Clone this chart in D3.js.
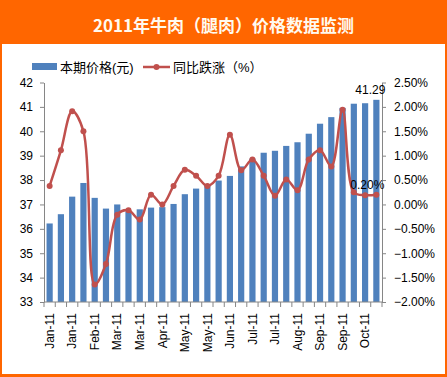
<!DOCTYPE html>
<html>
<head>
<meta charset="utf-8">
<script src="https://cdn.jsdelivr.net/npm/d3@7"></script>
<style>
	body { margin: 0; background: #fff; }
	svg { display: block; }
</style>
</head>
<body>
<div id="container"></div>
<script>
const TITLE = '2011年牛肉（腿肉）价格数据监测';
const seriesNames = ['本期价格(元)', '同比跌涨（%）'];

// 30 readings, only every other one gets a tick label
const categories = ['Jan-11', 'Jan-11', 'Jan-11', 'Jan-11', 'Feb-11', 'Feb-11', 'Mar-11', 'Mar-11', 'Mar-11', 'Mar-11',
	'Apr-11', 'Apr-11', 'May-11', 'May-11', 'May-11', 'May-11', 'Jun-11', 'Jun-11', 'Jul-11', 'Jul-11',
	'Jul-11', 'Jul-11', 'Aug-11', 'Aug-11', 'Sep-11', 'Sep-11', 'Sep-11', 'Sep-11', 'Oct-11', 'Oct-11'];
const price = [36.22, 36.6, 37.32, 37.88, 37.27, 36.83, 37.0, 36.7, 36.8, 36.87,
	36.89, 37.02, 37.42, 37.65, 37.79, 37.98, 38.17, 38.56, 38.88, 39.12,
	39.2, 39.4, 39.55, 39.9, 40.31, 40.58, 40.96, 41.13, 41.15, 41.29];
const yoy = [0.38, 1.11, 1.91, 1.50, -1.64, -1.22, -0.21, -0.12, -0.31, 0.20,
	0.0, 0.38, 0.71, 0.59, 0.38, 0.59, 1.43, 0.70, 0.92, 0.59,
	0.18, 0.51, 0.29, 0.92, 1.11, 0.78, 1.94, 0.25, 0.19, 0.20];
const leftTicks = [33, 34, 35, 36, 37, 38, 39, 40, 41, 42];
const rightTicks = [-2, -1.5, -1, -0.5, 0, 0.5, 1, 1.5, 2, 2.5];

const W = 447, H = 377;
const ORANGE = '#FF6600';
const BLUE = '#4F81BD';
const RED = '#C0504D';
const AXIS = '#868686';
const FONT = '"Liberation Sans", Arial, "Noto Sans CJK SC", sans-serif';

const svg = d3.select('#container').append('svg')
	.attr('width', W)
	.attr('height', H)
	.style('font-family', FONT);

// frame + title band
svg.append('rect').attr('width', W).attr('height', H).attr('fill', ORANGE);
svg.append('rect')
	.attr('x', 2).attr('y', 44)
	.attr('width', W - 4).attr('height', 330)
	.attr('fill', '#fff');
svg.append('text')
	.attr('x', W / 2).attr('y', 24)
	.attr('text-anchor', 'middle')
	.attr('dominant-baseline', 'central')
	.style('font-family', '"Noto Sans CJK SC", sans-serif')
	.style('font-weight', 'bold')
	.style('font-size', '17px')
	.attr('fill', '#fffaf0')
	.text(TITLE);

const PLOT = {left: 44, right: 382, top: 82.5, bottom: 302};

const x = d3.scaleBand()
	.domain(d3.range(categories.length))
	.range([PLOT.left, PLOT.right])
	.paddingInner(0.45)
	.paddingOuter(0.225);
const yL = d3.scaleLinear().domain([33, 42]).range([PLOT.bottom, PLOT.top]);
const yR = d3.scaleLinear().domain([-2, 2.5]).range([PLOT.bottom, PLOT.top]);
const cx = i => x(i) + x.bandwidth() / 2;

// bars
svg.append('g').selectAll('rect')
	.data(price)
	.join('rect')
	.attr('x', (d, i) => x(i))
	.attr('y', d => yL(d))
	.attr('width', x.bandwidth())
	.attr('height', d => yL(33) - yL(d))
	.attr('fill', BLUE);

// axes
const styleAxis = g => {
	g.select('.domain').attr('stroke', AXIS);
	g.selectAll('.tick line').attr('stroke', AXIS);
	g.selectAll('.tick text').attr('fill', '#000').style('font-size', '12px').style('font-family', FONT);
};
svg.append('g')
	.attr('transform', `translate(${PLOT.left},0)`)
	.call(d3.axisLeft(yL).tickValues(leftTicks).tickSize(4).tickSizeOuter(0).tickPadding(7))
	.call(styleAxis);
svg.append('g')
	.attr('transform', `translate(${PLOT.right},0)`)
	.call(d3.axisRight(yR).tickValues(rightTicks).tickSize(4).tickSizeOuter(0).tickPadding(8)
		.tickFormat(d => d3.format('.2f')(d) + '%'))
	.call(styleAxis);

const xAxis = svg.append('g').attr('transform', `translate(0,${PLOT.bottom})`);
xAxis.append('line')
	.attr('x1', PLOT.left).attr('x2', PLOT.right)
	.attr('stroke', AXIS);
xAxis.selectAll('line.tk')
	.data(d3.range(categories.length + 1))
	.join('line')
	.attr('class', 'tk')
	.attr('x1', i => PLOT.left + i * x.step())
	.attr('x2', i => PLOT.left + i * x.step())
	.attr('y2', 5)
	.attr('stroke', AXIS);
xAxis.selectAll('text')
	.data(categories.map((c, i) => ({c, i})).filter(d => d.i % 2 === 0))
	.join('text')
	.attr('transform', d => `translate(${cx(d.i)},11) rotate(-90)`)
	.attr('text-anchor', 'end')
	.attr('dy', '0.35em')
	.style('font-size', '12px')
	.text(d => d.c);

// smoothed yoy line
const line = d3.line()
	.x((d, i) => cx(i))
	.y(d => yR(d))
	.curve(d3.curveCatmullRom.alpha(0.5));
svg.append('path')
	.datum(yoy)
	.attr('d', line)
	.attr('fill', 'none')
	.attr('stroke', RED)
	.attr('stroke-width', 2.5);
svg.append('g').selectAll('circle')
	.data(yoy)
	.join('circle')
	.attr('cx', (d, i) => cx(i))
	.attr('cy', d => yR(d))
	.attr('r', 3)
	.attr('fill', RED);

// data labels on the last reading
const last = price.length - 1;
svg.append('text')
	.attr('x', cx(last) - 6).attr('y', yL(price[last]) - 6)
	.attr('text-anchor', 'middle')
	.style('font-size', '12px')
	.text(d3.format('.2f')(price[last]));
svg.append('text')
	.attr('x', cx(last) - 9).attr('y', yR(yoy[last]) - 6)
	.attr('text-anchor', 'middle')
	.style('font-size', '12px')
	.text(d3.format('.2f')(yoy[last]) + '%');

// legend
const legend = svg.append('g').style('font-size', '13px');
legend.append('rect')
	.attr('x', 32).attr('y', 63)
	.attr('width', 25).attr('height', 7)
	.attr('fill', BLUE);
legend.append('text')
	.attr('x', 60).attr('y', 67)
	.attr('dy', '0.35em')
	.text(seriesNames[0]);
legend.append('line')
	.attr('x1', 143).attr('x2', 170)
	.attr('y1', 67).attr('y2', 67)
	.attr('stroke', RED).attr('stroke-width', 2.5);
legend.append('circle')
	.attr('cx', 156.5).attr('cy', 67).attr('r', 3)
	.attr('fill', RED);
legend.append('text')
	.attr('x', 173).attr('y', 67)
	.attr('dy', '0.35em')
	.text(seriesNames[1]);
</script>
</body>
</html>
